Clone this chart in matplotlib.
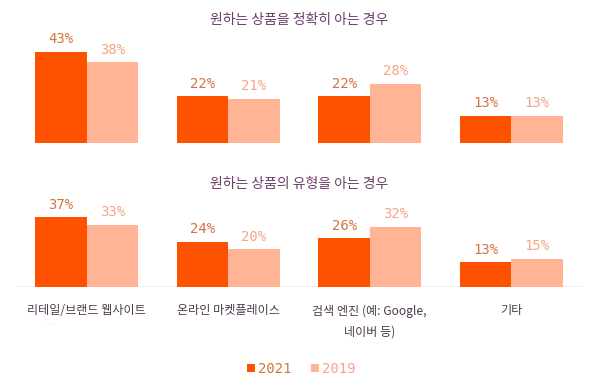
import matplotlib
matplotlib.use("Agg")
import matplotlib.pyplot as plt
from matplotlib.patches import Patch
from matplotlib.font_manager import FontProperties
import numpy as np

plt.rcParams['font.family'] = ['Noto Sans CJK KR', 'DejaVu Sans']

categories = ["리테일/브랜드 웹사이트", "온라인 마켓플레이스", "검색 엔진 (예: Google,\n네이버 등)", "기타"]
panel_titles = ["원하는 상품을 정확히 아는 경우", "원하는 상품의 유형을 아는 경우"]
series_names = ["2021", "2019"]
exact_2021 = [43, 22, 22, 13]
exact_2019 = [38, 21, 28, 13]
type_2021 = [37, 24, 26, 13]
type_2019 = [33, 20, 32, 15]

bar_colors = ["#ff5200", "#ffb496"]
label_colors = ["#d4733f", "#f2a585"]
title_color = "#6b3e6b"
cat_color = "#4d3b4d"
mono_fp = FontProperties(family="DejaVu Sans Mono", size=10)

fig = plt.figure(figsize=(6, 3.86), dpi=100)
ax_top = fig.add_axes([0.0267, 0.6287, 0.9433, 0.2759])
ax_bot = fig.add_axes([0.0267, 0.2565, 0.9433, 0.2448])

x = np.arange(len(categories))
w = 0.363

for ax, s21, s19 in [(ax_top, exact_2021, exact_2019), (ax_bot, type_2021, type_2019)]:
    for vals, off, col, lcol in [(s21, -w / 2, bar_colors[0], label_colors[0]),
                                 (s19, w / 2, bar_colors[1], label_colors[1])]:
        bars = ax.bar(x + off, vals, width=w, color=col, linewidth=0)
        for b, v in zip(bars, vals):
            ax.annotate(f"{v}%", (b.get_x() + b.get_width() / 2, v),
                        xytext=(0, 6), textcoords="offset points",
                        ha="center", va="baseline",
                        fontproperties=mono_fp, color=lcol)
    ax.set_xlim(-0.5, 3.5)
    ax.set_ylim(0, 50)
    ax.set_xticks([])
    ax.set_yticks([])
    for sp in ax.spines.values():
        sp.set_visible(False)

ax_bot.axhline(0, color="#ececec", linewidth=2, zorder=0)

for i, c in enumerate(categories):
    ax_bot.annotate(c, (x[i], 0), xytext=(0, -12.5), textcoords="offset points",
                    ha="center", va="top", fontsize=8.7, color=cat_color,
                    linespacing=1.75)
ax_bot.annotate("…", (x[0], 0), xytext=(-27, -28), textcoords="offset points",
                ha="center", va="center", fontsize=6, color="#c8c8c8")

fig.text(0.4983, 1 - 20 / 386, panel_titles[0], ha="center", va="center",
         fontsize=10, color=title_color)
fig.text(0.4983, 1 - 184 / 386, panel_titles[1], ha="center", va="center",
         fontsize=10, color=title_color)

handles = [Patch(facecolor=bar_colors[0], edgecolor="none"),
           Patch(facecolor=bar_colors[1], edgecolor="none")]
leg = fig.legend(handles, series_names, loc="center", bbox_to_anchor=(0.502, 1 - 369 / 386),
                 ncol=2, frameon=False, handlelength=0.55, handleheight=0.5,
                 handletextpad=0.25, columnspacing=1.4,
                 prop=FontProperties(family="DejaVu Sans Mono", size=10),
                 labelcolor=label_colors)

fig.savefig("out.png", dpi=100, facecolor="white")
